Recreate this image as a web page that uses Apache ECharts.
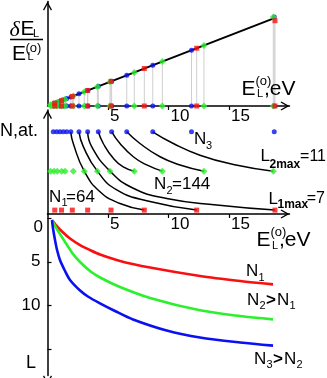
<!DOCTYPE html>
<html><head><meta charset="utf-8">
<script src="https://cdn.jsdelivr.net/npm/echarts@6/dist/echarts.min.js"></script>
<style>html,body{margin:0;padding:0;background:#fff}#c{width:327px;height:378px}</style>
</head><body><div id="c"></div>
<script>
// ---- data ----
const xTicks = [5, 10, 15];
const lTicks = [0, 5, 10, 15];
const lLabels = [5, 10];
const lOrigin = '0';

// level energies E_L(o), eV
const blueE  = [0.48, 0.76, 1.03, 1.31, 1.59, 1.93, 2.60, 3.32, 4.20, 5.30, 6.55, 8.70, 11.90, 18.74];
const greenE = [0.26, 0.54, 0.81, 1.17, 1.45, 2.13, 3.04, 4.12, 5.17, 7.17, 9.49, 12.93, 18.66];
const redE   = [0.60, 1.16, 2.05, 3.32, 5.25, 8.00, 12.33, 18.80];

// dE_L/E_L(o) (arbitrary units) on the top panel
const blueRatio  = [0.48, 0.76, 1.03, 1.31, 1.59, 1.93, 2.60, 3.32, 4.20, 5.30, 6.55, 8.70, 11.90, 19.0];
const greenRatio = [0.26, 0.54, 0.81, 1.17, 1.45, 2.13, 3.04, 4.12, 5.17, 7.17, 9.49, 12.93, 19.0];
const redRatio   = [0.60, 1.16, 2.05, 3.32, 5.25, 8.00, 12.33, 18.2];
const lineE = [0.2, 18.8];
const lineRatio = [0.2, 18.8];

// rows of the middle panel: N1, N2, N3
const rowLevel = [0.10, 1.10, 2.11];

// black connecting curves [E, row]
const link1 = [[1.92,2.11],[2.13,1.81],[3.04,1.10],[4.34,0.57],[5.99,0.27],[8.00,0.10]];
const link2 = [[2.60,2.11],[2.96,1.73],[4.12,1.10],[5.72,0.62],[8.47,0.32],[12.33,0.10]];
const link3 = [[3.32,2.11],[3.65,1.73],[5.17,1.10],[7.09,0.66],[9.85,0.40],[13.98,0.23],[18.80,0.10]];
const link4 = [[4.20,2.11],[4.61,1.81],[5.44,1.43],[6.26,1.21],[7.17,1.10]];
const link5 = [[5.31,2.11],[5.99,1.81],[7.09,1.47],[8.20,1.26],[9.49,1.10]];
const link6 = [[6.55,2.11],[7.64,1.81],[9.30,1.47],[10.95,1.26],[12.93,1.10]];
const link7 = [[8.69,2.11],[10.40,1.81],[12.60,1.51],[15.36,1.27],[18.66,1.10]];

// bottom panel curves [E, L]
const curveN1 = [[0.37,0.23],[0.70,0.80],[1.20,1.54],[1.86,2.34],[2.69,3.09],[3.51,3.66],[4.34,4.17],
                 [5.99,4.91],[8.47,5.66],[12.60,6.63],[15.91,7.20],[18.64,7.58]];
const curveN2 = [[0.37,0.23],[0.70,1.09],[1.03,1.83],[1.45,2.74],[2.11,4.11],[2.69,5.03],[3.51,6.06],
                 [4.34,6.80],[5.99,7.89],[8.47,9.14],[12.60,10.55],[15.91,11.20],[18.64,11.58]];
const curveN3 = [[0.37,0.23],[0.45,1.14],[0.62,2.51],[0.79,3.66],[1.03,4.80],[1.45,6.06],[1.86,7.09],
                 [2.69,8.29],[3.37,9.00],[4.34,9.75],[5.58,10.63],[7.07,11.60],[9.85,12.86],
                 [12.60,13.66],[15.91,14.23],[18.64,14.59]];

// ---- styles ----
const BLUE = '#0a10f0', GREEN = '#2cf02c', RED = '#f81010';
const FONT = '"Liberation Sans", Arial, sans-serif';
const ARROW = 'path://M5,0L10,9L8.8,9.8L5,3L1.2,9.8L0,9Z';

function xAx(i, show) {
  return {
    gridIndex: i, type: 'value', min: 0, max: 20, show: show,
    axisLine: {show: true, onZero: false, lineStyle: {color: '#000', width: 1.5},
      symbol: ['none', ARROW], symbolSize: [9, 9], symbolOffset: [0, -4.5]},
    axisTick: {show: true, customValues: xTicks, length: 4, lineStyle: {color: '#000', width: 1.2}},
    axisLabel: {show: true, customValues: xTicks, align: 'left', margin: 2, padding: [0,0,0,2],
      fontSize: 17, color: '#000', fontFamily: FONT},
    splitLine: {show: false}
  };
}
function yAx(i, min, max) {
  return {
    gridIndex: i, type: 'value', min: min, max: max,
    axisLine: {show: true, onZero: false, lineStyle: {color: '#000', width: 1.5},
      symbol: ['none', ARROW], symbolSize: [9, 9], symbolOffset: [0, -4.5]},
    axisTick: {show: false}, axisLabel: {show: false}, splitLine: {show: false}
  };
}
function pts(xs, ys) { return xs.map((x, k) => [x, ys[k]]); }
function row(xs, lvl) { return xs.map(x => [x, lvl]); }
function scat(xi, data, color, symbol, size) {
  return {type: 'scatter', xAxisIndex: xi, yAxisIndex: xi, data: data, symbol: symbol,
    symbolSize: size, itemStyle: {color: color}, clip: false, silent: true, z: 5};
}
function link(data) {
  return {type: 'line', xAxisIndex: 1, yAxisIndex: 1, data: data, smooth: 0.5, symbol: 'none',
    lineStyle: {color: '#000', width: 1.5}, clip: false, silent: true, z: 3};
}
function curve(data, color) {
  return {type: 'line', xAxisIndex: 2, yAxisIndex: 2, data: data, smooth: 0.3, symbol: 'none',
    lineStyle: {color: color, width: 2.6}, clip: false, silent: true, z: 3};
}
function txt(x, y, s, size, extra) {
  const st = Object.assign({text: s, font: size + 'px ' + FONT, fill: '#000',
    align: 'left', textAlign: 'left', verticalAlign: 'middle', textVerticalAlign: 'middle'}, extra || {});
  return {type: 'text', x: x, y: y, z: 100, silent: true, style: st};
}
const B = {font: 'bold 12px ' + FONT};
const R = {align: 'right', textAlign: 'right'};

const topAll = pts(blueE, blueRatio).concat(pts(greenE, greenRatio), pts(redE, redRatio));
const G = {outerBoundsMode: 'none', containLabel: false};

const option = {
  animation: false,
  backgroundColor: '#fff',
  grid: [
    Object.assign({left: 47.5, top: 1.5, width: 242, height: 104.5}, G),
    Object.assign({left: 47.5, top: 110, width: 242, height: 104}, G),
    Object.assign({left: 47.5, top: 214, width: 242, height: 161.5}, G)
  ],
  xAxis: [xAx(0, true), xAx(1, true), Object.assign(xAx(2, false), {show: false})],
  yAxis: [
    yAx(0, 0, 22.3),
    yAx(1, 0, 2.67),
    {
      gridIndex: 2, type: 'value', min: -0.46, max: 18, inverse: true,
      axisLine: {show: true, onZero: false, lineStyle: {color: '#000', width: 1.5},
        symbol: [ARROW, 'none'], symbolSize: [9, 9], symbolOffset: [-4.5, 0]},
      axisTick: {show: true, inside: true, customValues: lTicks, length: 4, lineStyle: {color: '#000', width: 1.2}},
      axisLabel: {show: true, customValues: lLabels, margin: 7, fontSize: 17, color: '#000', fontFamily: FONT},
      splitLine: {show: false}
    }
  ],
  series: [
    {
      type: 'custom', xAxisIndex: 0, yAxisIndex: 0, data: topAll, silent: true, z: 1, clip: false,
      renderItem: function (params, api) {
        const a = api.coord([api.value(0), 0]);
        const b = api.coord([api.value(0), api.value(1)]);
        return {type: 'line', shape: {x1: a[0], y1: a[1], x2: b[0], y2: b[1]},
          style: {stroke: '#cfcfcf', lineWidth: 1}};
      }
    },
    {type: 'line', xAxisIndex: 0, yAxisIndex: 0, data: pts(lineE, lineRatio), symbol: 'none',
      lineStyle: {color: '#000', width: 2}, z: 3, silent: true},
    scat(0, pts(blueE, blueRatio).concat(row(blueE, 0)), BLUE, 'circle', 5),
    scat(0, pts(greenE, greenRatio).concat(row(greenE, 0)), GREEN, 'diamond', 7),
    scat(0, pts(redE, redRatio).concat(row(redE, 0)), RED, 'rect', 5),

    link(link1), link(link2), link(link3), link(link4), link(link5), link(link6), link(link7),
    scat(1, row(blueE, rowLevel[2]), BLUE, 'circle', 5),
    scat(1, row(greenE, rowLevel[1]), GREEN, 'diamond', 7),
    scat(1, row(redE, rowLevel[0]), RED, 'rect', 5),

    curve(curveN1, RED), curve(curveN2, GREEN), curve(curveN3, BLUE)
  ],
  graphic: [
    txt(9.5, 30, 'δ', 22, {font: 'italic 22px "Liberation Serif", serif'}),
    txt(20.5, 29.5, 'E', 21),
    txt(33, 34, 'L', 11),
    {type: 'line', silent: true, shape: {x1: 10, y1: 39.5, x2: 43, y2: 39.5}, style: {stroke: '#000', lineWidth: 1.5}},
    txt(12, 54.5, 'E', 21),
    txt(25.5, 48.5, '(o)', 13),
    txt(27.5, 56.5, 'L', 11),

    txt(241.5, 89.5, 'E', 21),
    txt(255.5, 81, '(o)', 13),
    txt(257, 94, 'L', 11),
    txt(264, 89.5, ',eV', 21),

    txt(256.5, 240, 'E', 21),
    txt(270.5, 232, '(o)', 13),
    txt(272, 245.5, 'L', 11),
    txt(279, 240, ',eV', 21),

    txt(43, 227.5, lOrigin, 17, R),

    txt(0, 131, 'N,at.', 18),
    txt(194, 139, 'N', 17), txt(206, 145.5, '3', 11),
    txt(260.5, 156.5, 'L', 17), txt(269.5, 164.5, '2max', 12, B), txt(326, 156.5, '=11', 16, R),
    txt(154, 184, 'N', 17), txt(166.5, 191, '2', 11), txt(172, 184, '=144', 17),
    txt(49, 197, 'N', 17), txt(61.5, 203, '1', 11), txt(66, 197, '=64', 17),
    txt(268.5, 199, 'L', 17), txt(277.5, 205, '1max', 12, B), txt(325, 199, '=7', 16, R),

    txt(246, 271.5, 'N', 17), txt(258.5, 277.5, '1', 11),
    txt(247, 300, 'N', 17), txt(259.5, 306, '2', 11), txt(266, 300, '>', 17, {font: 'bold 17px ' + FONT}),
    txt(277, 300, 'N', 17), txt(289.5, 306, '1', 11),
    txt(254, 359, 'N', 17), txt(266.5, 365, '3', 11), txt(273, 359, '>', 17, {font: 'bold 17px ' + FONT}),
    txt(284, 359, 'N', 17), txt(296.5, 365, '2', 11),
    txt(26, 363.5, 'L', 18)
  ]
};
const chart = echarts.init(document.getElementById('c'), null, {renderer: 'canvas'});
chart.setOption(option);
</script>
</body></html>
